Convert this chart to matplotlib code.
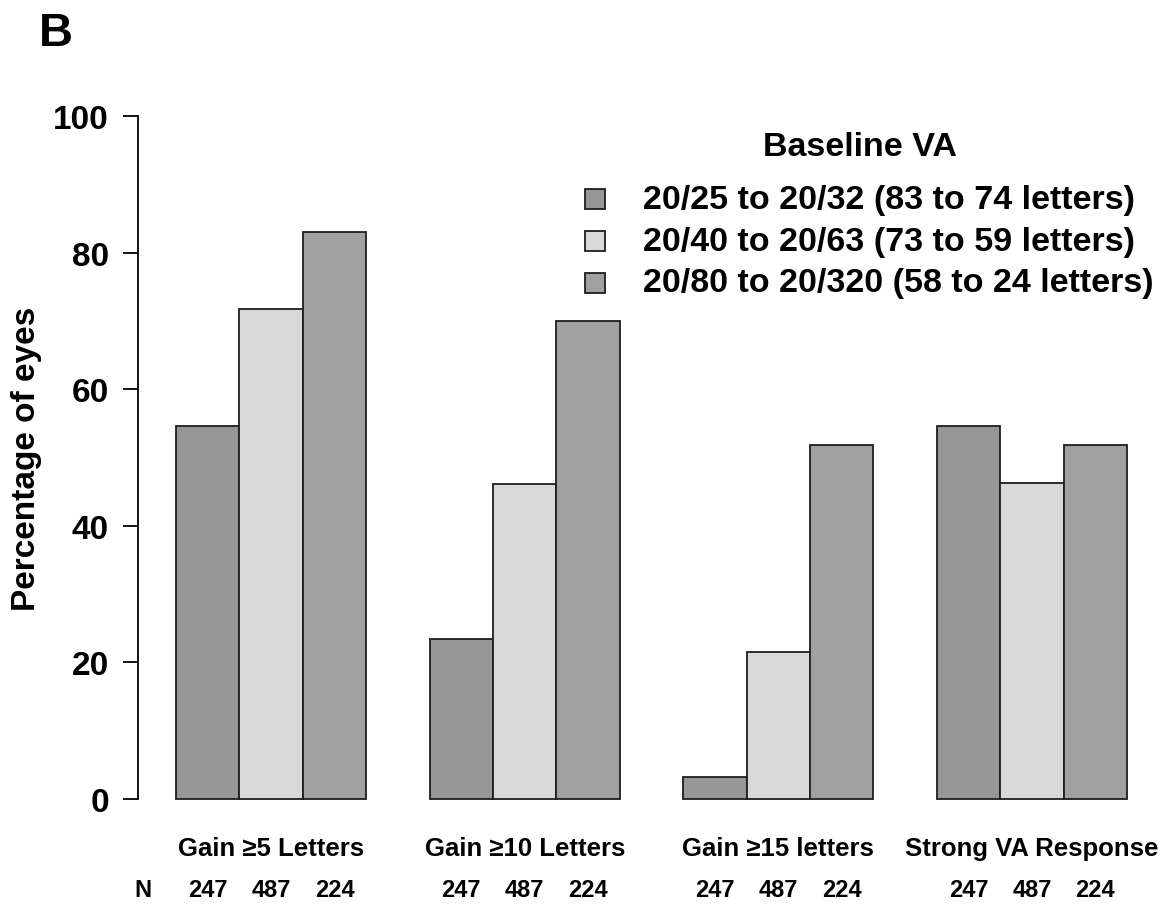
import matplotlib
matplotlib.use("Agg")
import matplotlib.pyplot as plt
from matplotlib.patches import Rectangle
from matplotlib.transforms import blended_transform_factory

plt.rcParams['font.family'] = ['Liberation Sans', 'DejaVu Sans']
plt.rcParams['font.weight'] = 'bold'

# --- data ---
categories = ["Gain \u22655 Letters", "Gain \u226510 Letters",
              "Gain \u226515 letters", "Strong VA Response"]
baseline_groups = ["20/25 to 20/32 (83 to 74 letters)",
                   "20/40 to 20/63 (73 to 59 letters)",
                   "20/80 to 20/320 (58 to 24 letters)"]
pct_good = [54.6, 23.4, 3.2, 54.6]      # 20/25 to 20/32
pct_mid = [71.7, 46.1, 21.5, 46.2]      # 20/40 to 20/63
pct_poor = [83.0, 70.0, 51.8, 51.8]     # 20/80 to 20/320
n_eyes = [247, 487, 224]

series = [pct_good, pct_mid, pct_poor]
colors = ["#979797", "#d9d9d9", "#a0a0a0"]
edge = "#1e1e1e"

W, H = 1176, 912
fig = plt.figure(figsize=(W / 100, H / 100), dpi=100)
# plot region in pixels: x 138..1165, y 90..827
ax = fig.add_axes([138 / W, 1 - 827 / H, (1165 - 138) / W, (827 - 90) / H])

n_groups = len(categories)
n_series = len(series)
for j, vals in enumerate(series):
    lefts = [1 + g * (n_series + 1) + j for g in range(n_groups)]
    ax.bar(lefts, vals, width=1.0, align='edge', color=colors[j],
           edgecolor=edge, linewidth=1.3)

ax.set_xlim(0.4, 16.6)
ax.set_ylim(-4, 104)
ax.set_yticks([0, 20, 40, 60, 80, 100])
ax.tick_params(axis='y', length=11, width=1.3, pad=10, labelsize=24)
for lbl in ax.get_yticklabels():
    lbl.set_fontweight('bold')
ax.set_xticks([])
for s in ['top', 'right', 'bottom']:
    ax.spines[s].set_visible(False)
ax.spines['left'].set_bounds(0, 100)
ax.spines['left'].set_linewidth(1.3)
ax.set_ylabel("Percentage of eyes", fontsize=24, fontweight='bold', labelpad=8)

# category labels and N row under the bars
trans = blended_transform_factory(ax.transData, fig.transFigure)
for g, cat in enumerate(categories):
    x0 = 1 + g * (n_series + 1)
    ax.text(x0 + n_series / 2, 1 - 849 / H, cat, transform=trans,
            ha='center', va='center', fontsize=18.5, fontweight='bold')
    for j, n in enumerate(n_eyes):
        ax.text(x0 + j + 0.5, 1 - 891 / H, str(n), transform=trans,
                ha='center', va='center', fontsize=17, fontweight='bold')
fig.text(143 / W, 1 - 891 / H, "N", ha='center', va='center',
         fontsize=17, fontweight='bold')

# panel letter
fig.text(39 / W, 1 - 34 / H, "B", ha='left', va='center',
         fontsize=34, fontweight='bold')

# legend (drawn by hand to match spacing)
fig.text(860 / W, 1 - 148 / H, "Baseline VA", ha='center', va='center',
         fontsize=24.5, fontweight='bold')
row_y = [200, 242, 284]
for c, lab, y in zip(colors, baseline_groups, row_y):
    fig.patches.append(Rectangle(((585) / W, 1 - (y + 10) / H), 20 / W, 20 / H,
                                 transform=fig.transFigure, facecolor=c,
                                 edgecolor=edge, linewidth=1.3))
    fig.text(643 / W, 1 - y / H, lab, ha='left', va='center',
             fontsize=24.5, fontweight='bold')

fig.savefig("out.png", dpi=100)
